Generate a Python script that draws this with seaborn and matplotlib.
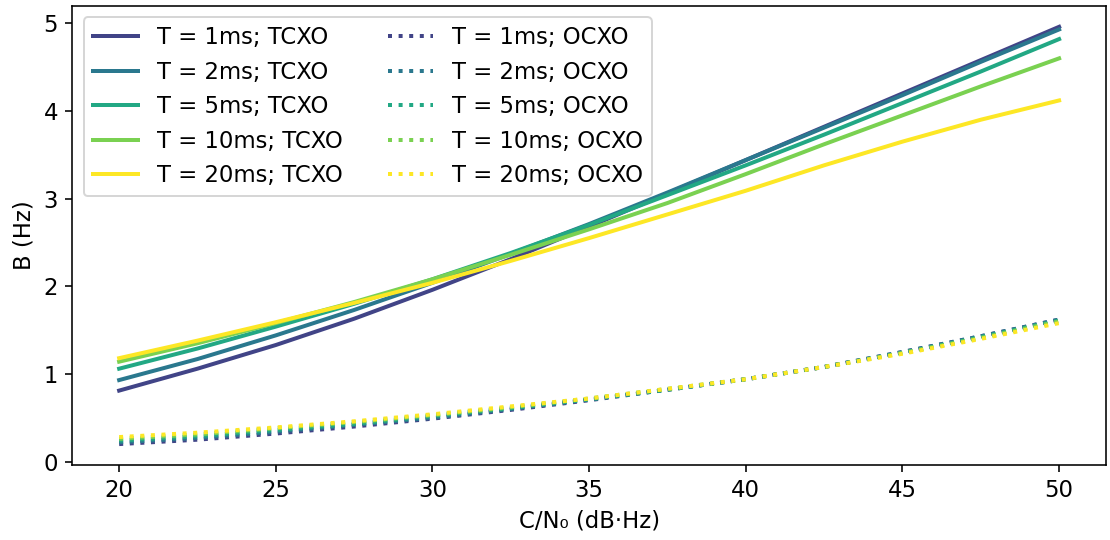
import matplotlib
matplotlib.use("Agg")
import matplotlib.pyplot as plt
import seaborn as sns
import numpy as np
import pandas as pd

cn0 = [20, 22.5, 25, 27.5, 30, 32.5, 35, 37.5, 40, 42.5, 45, 47.5, 50]
periods = ["1ms", "2ms", "5ms", "10ms", "20ms"]

tcxo_1 = [0.81, 1.06, 1.33, 1.63, 1.96, 2.31, 2.68, 3.06, 3.44, 3.82, 4.20, 4.58, 4.96]
tcxo_2 = [0.93, 1.17, 1.44, 1.73, 2.04, 2.37, 2.71, 3.07, 3.44, 3.81, 4.18, 4.56, 4.93]
tcxo_5 = [1.06, 1.29, 1.54, 1.80, 2.08, 2.38, 2.70, 3.04, 3.38, 3.73, 4.09, 4.45, 4.82]
tcxo_10 = [1.14, 1.35, 1.58, 1.82, 2.08, 2.36, 2.65, 2.95, 3.28, 3.62, 3.95, 4.28, 4.60]
tcxo_20 = [1.18, 1.38, 1.59, 1.81, 2.04, 2.29, 2.55, 2.82, 3.09, 3.38, 3.65, 3.90, 4.12]

ocxo_1 = [0.20, 0.25, 0.32, 0.40, 0.49, 0.59, 0.70, 0.82, 0.94, 1.08, 1.25, 1.43, 1.62]
ocxo_2 = [0.22, 0.27, 0.34, 0.42, 0.50, 0.60, 0.71, 0.82, 0.94, 1.08, 1.25, 1.43, 1.62]
ocxo_5 = [0.24, 0.29, 0.36, 0.43, 0.52, 0.61, 0.71, 0.82, 0.94, 1.08, 1.24, 1.42, 1.61]
ocxo_10 = [0.26, 0.31, 0.38, 0.45, 0.53, 0.62, 0.72, 0.83, 0.94, 1.08, 1.24, 1.41, 1.60]
ocxo_20 = [0.28, 0.33, 0.39, 0.46, 0.54, 0.63, 0.72, 0.83, 0.94, 1.08, 1.23, 1.40, 1.58]

tcxo = [tcxo_1, tcxo_2, tcxo_5, tcxo_10, tcxo_20]
ocxo = [ocxo_1, ocxo_2, ocxo_5, ocxo_10, ocxo_20]

plt.rcParams["font.size"] = 11.4

cmap = sns.color_palette("viridis", as_cmap=True)
colors = [cmap(v) for v in [0.2, 0.4, 0.6, 0.8, 1.0]]

fig = plt.figure(figsize=(1110 / 144, 540 / 144), dpi=144)
ax = fig.add_axes([0.065, 0.139, 0.9315, 0.85])

for p, ys, c in zip(periods, tcxo, colors):
    sns.lineplot(x=cn0, y=ys, ax=ax, color=c, lw=2, linestyle="-",
                 label=f"T = {p}; TCXO")
for p, ys, c in zip(periods, ocxo, colors):
    sns.lineplot(x=cn0, y=ys, ax=ax, color=c, lw=2, linestyle=":",
                 label=f"T = {p}; OCXO")

ax.set_xlabel("C/N₀ (dB·Hz)")
ax.set_ylabel("B (Hz)")
ax.set_xticks([20, 25, 30, 35, 40, 45, 50])
ax.set_yticks([0, 1, 2, 3, 4, 5])
ax.legend(ncol=2, loc="upper left")

fig.savefig("out.png", dpi=144)
